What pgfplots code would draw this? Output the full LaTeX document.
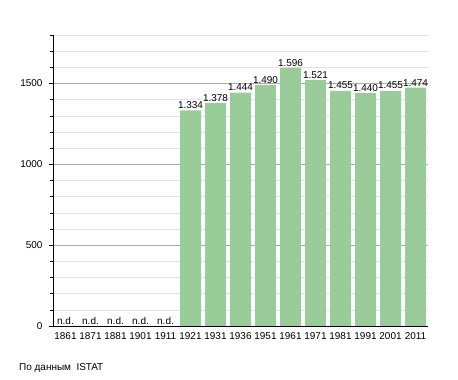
\documentclass[border=0pt]{standalone}
\usepackage{pgfplots}
\pgfplotsset{compat=1.18}
\usepackage{pgfplotstable}
\usepackage{fontspec}
\setmainfont{Liberation Sans}
\definecolor{bargreen}{HTML}{99CC99}
\definecolor{majgrid}{HTML}{ABABAB}
\definecolor{mingrid}{HTML}{E3E3E3}
\pgfplotstableread{
x y lab
5 1334 1.334
6 1378 1.378
7 1444 1.444
8 1490 1.490
9 1596 1.596
10 1521 1.521
11 1455 1.455
12 1440 1.440
13 1455 1.455
14 1474 1.474
}\pop
\begin{document}
\begin{tikzpicture}
\path[use as bounding box] (0,0) rectangle (458bp,380bp);
\begin{axis}[
  at={(53bp,54bp)}, anchor=south west,
  width=375bp, height=291bp, scale only axis,
  xmin=-0.5, xmax=14.5, ymin=0, ymax=1800,
  axis x line*=bottom, axis y line*=left,
  axis line style={black, line width=0.8pt},
  xtick={0,...,14},
  xticklabels={1861,1871,1881,1901,1911,1921,1931,1936,1951,1961,1971,1981,1991,2001,2011},
  x tick style={draw=none},
  ytick={0,500,1000,1500},
  minor ytick={100,200,300,400,600,700,800,900,1100,1200,1300,1400,1600,1700,1800},
  ymajorgrids, yminorgrids,
  major grid style={majgrid, line width=0.6pt},
  minor grid style={mingrid, line width=0.6pt},
  y tick style={black, line width=0.6pt},
  major tick length=4bp, minor tick length=2.5bp,
  tick align=outside,
  ticklabel style={font=\fontsize{10}{11}\selectfont},
  yticklabel style={xshift=-3bp},
  xticklabel style={yshift=1bp},
  /pgf/number format/assume math mode=true,
  /pgf/number format/1000 sep={},
  scaled y ticks=false,
  tick pos=left,
]
\addplot[ybar, bar width=21bp, fill=bargreen, draw=none,
  nodes near coords, point meta=explicit symbolic,
  every node near coord/.append style={font=\fontsize{10}{11}\selectfont, black, inner sep=1.5bp}]
  table[x=x, y=y, meta=lab] {\pop};
\pgfplotsinvokeforeach{0,...,4}{
  \node[font=\fontsize{10}{11}\selectfont, anchor=south, inner sep=1.5bp] at (axis cs:#1,0) {n.d.};
}
\end{axis}
\node[anchor=west, font=\fontsize{10}{11}\selectfont, inner sep=0] at (19bp,12bp) {По данным\ \ ISTAT};
\end{tikzpicture}
\end{document}
